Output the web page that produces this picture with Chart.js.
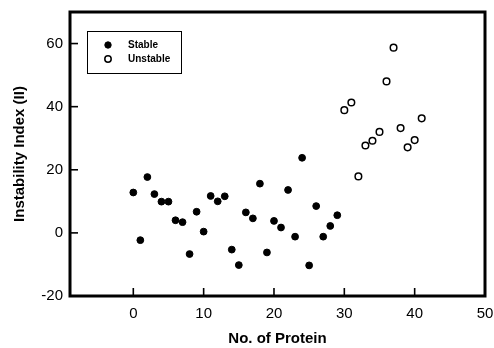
<!DOCTYPE html>
<html lang="en">
<head>
    <meta charset="UTF-8">
    <title>Instability Index</title>
    <script src="https://cdn.jsdelivr.net/npm/chart.js"></script>
    <style>
        html, body { margin: 0; padding: 0; background: #fff; }
        #box { width: 494px; height: 348px; }
    </style>
</head>
<body>
    <div id="box">
        <canvas id="chart"></canvas>
    </div>

    <script>
        // values
        const stableX = [0, 1, 2, 3, 4, 5, 6, 7, 8, 9, 10, 11, 12, 13, 14, 15, 16, 17, 18, 19, 20, 21, 22, 23, 24, 25, 26, 27, 28, 29];
        const stableY = [12.8, -2.3, 17.7, 12.3, 9.9, 9.9, 4.0, 3.4, -6.7, 6.7, 0.4, 11.7, 10.0, 11.6, -5.3, -10.2, 6.5, 4.6, 15.6, -6.2, 3.8, 1.7, 13.6, -1.2, 23.8, -10.3, 8.5, -1.2, 2.2, 5.6];
        const unstableX = [30, 31, 32, 33, 34, 35, 36, 37, 38, 39, 40, 41];
        const unstableY = [38.9, 41.3, 17.9, 27.7, 29.2, 32.0, 48.0, 58.7, 33.2, 27.1, 29.4, 36.3];
        const xTicks = [0, 10, 20, 30, 40, 50];
        const yTicks = [-20, 0, 20, 40, 60];

        const FONT = "'Liberation Sans', Arial, Helvetica, sans-serif";

        const toPoints = (xs, ys) => xs.map((x, i) => ({ x: x, y: ys[i] }));

        // thick frame + inward tick marks
        const framePlugin = {
            id: 'frame',
            afterDraw(chart) {
                const ctx = chart.ctx;
                const a = chart.chartArea;
                const xs = chart.scales.x, ys = chart.scales.y;
                ctx.save();
                ctx.strokeStyle = '#000';
                ctx.lineWidth = 1.6;
                xs.ticks.forEach(t => {
                    const px = xs.getPixelForValue(t.value);
                    ctx.beginPath();
                    ctx.moveTo(px, a.bottom);
                    ctx.lineTo(px, a.bottom - 8);
                    ctx.stroke();
                });
                ys.ticks.forEach(t => {
                    const py = ys.getPixelForValue(t.value);
                    ctx.beginPath();
                    ctx.moveTo(a.left, py);
                    ctx.lineTo(a.left + 8, py);
                    ctx.stroke();
                });
                ctx.lineWidth = 3;
                ctx.strokeRect(a.left, a.top, a.right - a.left, a.bottom - a.top);
                ctx.restore();
            }
        };

        // boxed legend inside the plot
        const legendPlugin = {
            id: 'boxLegend',
            afterDraw(chart) {
                const ctx = chart.ctx;
                const a = chart.chartArea;
                const bx = a.left + 17, by = a.top + 19, bw = 94, bh = 42;
                ctx.save();
                ctx.strokeStyle = '#000';
                ctx.lineWidth = 1;
                ctx.strokeRect(bx + 0.5, by + 0.5, bw, bh);
                ctx.font = 'bold 10px ' + FONT;
                ctx.textBaseline = 'middle';
                ctx.fillStyle = '#000';
                chart.data.datasets.forEach((ds, i) => {
                    const cy = by + 14 + i * 14;
                    ctx.beginPath();
                    ctx.arc(bx + 21, cy, 3.2, 0, Math.PI * 2);
                    ctx.fillStyle = ds.backgroundColor;
                    ctx.fill();
                    ctx.lineWidth = ds.borderWidth;
                    ctx.strokeStyle = ds.borderColor;
                    ctx.stroke();
                    ctx.fillStyle = '#000';
                    ctx.fillText(ds.label, bx + 41, cy);
                });
                ctx.restore();
            }
        };

        const ctx = document.getElementById('chart').getContext('2d');
        new Chart(ctx, {
            type: 'scatter',
            data: {
                datasets: [{
                    label: 'Stable',
                    data: toPoints(stableX, stableY),
                    backgroundColor: '#000',
                    borderColor: '#000',
                    borderWidth: 1,
                    pointRadius: 3.4
                }, {
                    label: 'Unstable',
                    data: toPoints(unstableX, unstableY),
                    backgroundColor: '#fff',
                    borderColor: '#000',
                    borderWidth: 1.5,
                    pointRadius: 3.3
                }]
            },
            options: {
                responsive: true,
                maintainAspectRatio: false,
                animation: false,
                layout: {
                    padding: { top: 12, right: 9, left: 0, bottom: 0 }
                },
                scales: {
                    x: {
                        type: 'linear',
                        min: -9,
                        max: 50,
                        afterBuildTicks: s => { s.ticks = xTicks.map(v => ({ value: v })); },
                        afterFit: s => { s.height = 52; s.paddingLeft = 0; s.paddingRight = 0; },
                        grid: { display: false, drawTicks: false },
                        border: { display: false },
                        ticks: {
                            color: '#000',
                            padding: 9,
                            font: { family: FONT, size: 15 }
                        },
                        title: {
                            display: true,
                            text: 'No. of Protein',
                            color: '#000',
                            padding: { top: 0, bottom: 0 },
                            font: { family: FONT, size: 15, weight: 'bold' }
                        }
                    },
                    y: {
                        min: -20,
                        max: 70,
                        afterBuildTicks: s => { s.ticks = yTicks.map(v => ({ value: v })); },
                        afterFit: s => { s.width = 70; s.paddingTop = 0; s.paddingBottom = 0; },
                        grid: { display: false, drawTicks: false },
                        border: { display: false },
                        ticks: {
                            color: '#000',
                            padding: 7,
                            font: { family: FONT, size: 15 }
                        },
                        title: {
                            display: true,
                            text: 'Instability Index (II)',
                            color: '#000',
                            padding: { top: 11, bottom: 0 },
                            font: { family: FONT, size: 15, weight: 'bold' }
                        }
                    }
                },
                plugins: {
                    legend: { display: false },
                    tooltip: { enabled: false }
                }
            },
            plugins: [framePlugin, legendPlugin]
        });
    </script>
</body>
</html>
